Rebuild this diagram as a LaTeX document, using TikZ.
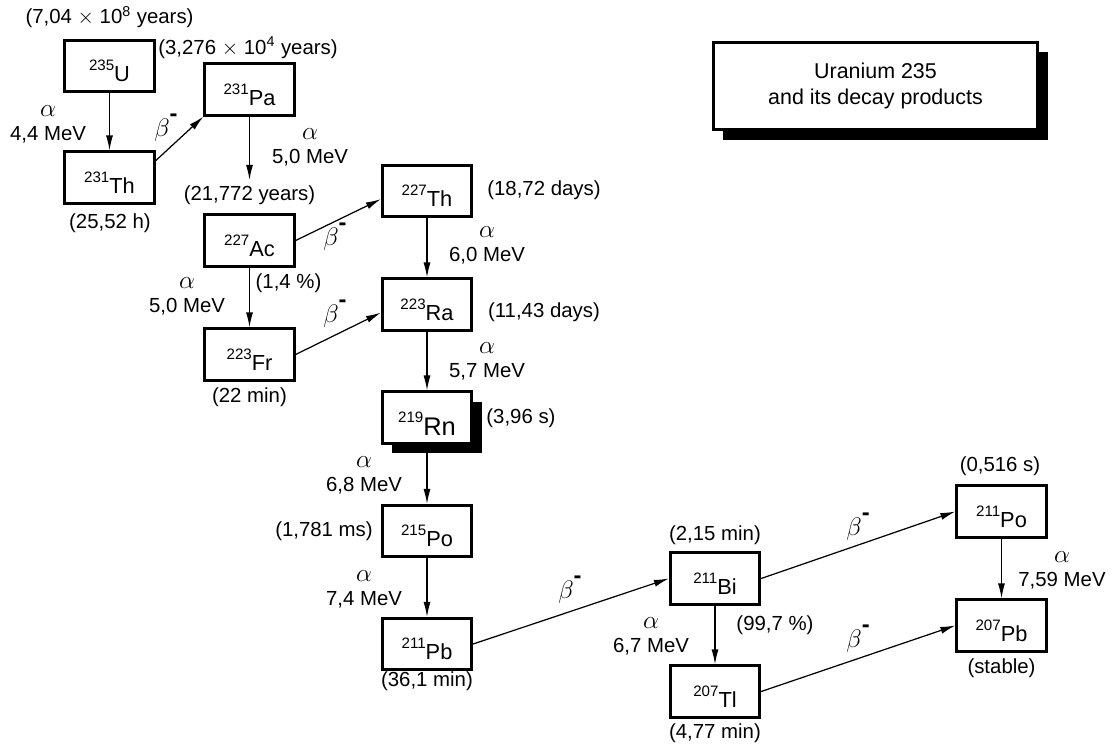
\documentclass[tikz,border=0pt]{standalone}
\usepackage{fontspec}
\setmainfont{Liberation Sans}
\usetikzlibrary{arrows.meta}
\usetikzlibrary{shadows}
\newcommand{\nucl}[2]{\raisebox{0.5em}{\fontsize{8.6}{8.6}\selectfont #1}#2}
\newcommand{\alp}{{\fontsize{13.5}{13.5}\selectfont$\alpha$}}
\newcommand{\bminus}{{\fontsize{13.5}{13.5}\selectfont$\beta$\raisebox{1.2ex}{\textbf{-}}}}

\begin{document}
\begin{tikzpicture}[
  font=\fontsize{11.6}{13.5}\selectfont,
  nuc/.style={draw, line width=1.6pt, fill=white, minimum width=1.79cm,
              minimum height=1.03cm, inner sep=0pt, text height=18pt, text depth=0pt,
              font=\fontsize{12.4}{14}\selectfont},
  lab/.style={inner sep=1pt},
  dec/.style={align=center, inner sep=1pt},
  ar/.style={-{Latex[length=8.5pt,width=4pt]}, line width=0.7pt},
  heavy/.style={drop shadow={shadow xshift=0.2cm, shadow yshift=-0.2cm,
                fill=black, opacity=1}}
]
\useasboundingbox (0,0) rectangle (22.24,-14.94);
\node[nuc, heavy, minimum width=6.49cm, minimum height=1.75cm, align=center,
  text height=, text depth=, font=\fontsize{12.2}{14.5}\selectfont]
  (title) at (17.51,-1.72) {Uranium 235\\and its decay products};
% nuclides
\node[nuc] (u235)  at (2.19,-1.32)  {\nucl{235}{U}};
\node[nuc] (pa231) at (4.99,-1.79)  {\nucl{231}{Pa}};
\node[nuc] (th231) at (2.19,-3.55)  {\nucl{231}{Th}};
\node[nuc] (ac227) at (4.99,-4.81)  {\nucl{227}{Ac}};
\node[nuc] (th227) at (8.54,-3.82)  {\nucl{227}{Th}};
\node[nuc] (ra223) at (8.54,-6.09)  {\nucl{223}{Ra}};
\node[nuc] (fr223) at (4.99,-7.09)  {\nucl{223}{Fr}};
\node[nuc, heavy, text height=20pt, font=\fontsize{14.5}{16}\selectfont] (rn219)
  at (8.54,-8.35) {\nucl{219}{Rn}};
\node[nuc] (po215) at (8.54,-10.62) {\nucl{215}{Po}};
\node[nuc] (pb211) at (8.54,-12.88) {\nucl{211}{Pb}};
\node[nuc] (bi211) at (14.3,-11.57) {\nucl{211}{Bi}};
\node[nuc] (tl207) at (14.3,-13.83) {\nucl{207}{Tl}};
\node[nuc] (po211) at (20.03,-10.23) {\nucl{211}{Po}};
\node[nuc] (pb207) at (20.03,-12.51) {\nucl{207}{Pb}};
% half-lives
\node[lab] (u235t)  at (2.19,-0.34)  {(7,04 $\times$ 10\textsuperscript{8} years)};
\node[lab] (pa231t) at (4.96,-0.96)  {(3,276 $\times$ 10\textsuperscript{4} years)};
\node[lab] (th231t) at (2.2,-4.46)   {(25,52 h)};
\node[lab, inner ysep=3pt] (ac227t) at (4.99,-3.9) {(21,772 years)};
\node[lab] (th227t) at (10.88,-3.8)  {(18,72 days)};
\node[lab] (ra223t) at (10.88,-6.24) {(11,43 days)};
\node[lab] (fr223t) at (4.99,-7.94)  {(22 min)};
\node[lab] (rn219t) at (10.42,-8.36) {(3,96 s)};
\node[lab] (po215t) at (6.48,-10.62) {(1,781 ms)};
\node[lab] (pb211t) at (8.54,-13.62) {(36,1 min)};
\node[lab] (bi211t) at (14.3,-10.7)  {(2,15 min)};
\node[lab] (tl207t) at (14.3,-14.66) {(4,77 min)};
\node[lab] (po211t) at (20.0,-9.32)  {(0,516 s)};
\node[lab] (pb207t) at (20.03,-13.36) {(stable)};
\node[lab] (ac227p) at (5.77,-5.66)  {(1,4 \%)};
\node[lab] (bi211p) at (15.5,-12.5)  {(99,7 \%)};
% alpha decays
\node[dec] (a1) at (0.96,-2.48)  {\alp\\4,4 MeV};
\node[dec] (a2) at (6.2,-2.94)   {\alp\\5,0 MeV};
\node[dec] (a3) at (3.74,-5.92)  {\alp\\5,0 MeV};
\node[dec] (a4) at (9.74,-4.9)   {\alp\\6,0 MeV};
\node[dec] (a5) at (9.74,-7.22)  {\alp\\5,7 MeV};
\node[dec] (a6) at (7.28,-9.5)   {\alp\\6,8 MeV};
\node[dec] (a7) at (7.28,-11.78) {\alp\\7,4 MeV};
\node[dec] (a8) at (13.02,-12.72) {\alp\\6,7 MeV};
\node[dec] (a9) at (21.24,-11.4) {\alp\\7,59 MeV};
% beta decays
\node[lab] (b1) at (3.32,-2.56)  {\bminus};
\node[lab] (b2) at (6.7,-4.74)   {\bminus};
\node[lab] (b3) at (6.7,-6.28)   {\bminus};
\node[lab] (b4) at (11.4,-11.8)  {\bminus};
\node[lab] (b5) at (17.16,-10.54) {\bminus};
\node[lab] (b6) at (17.16,-12.78) {\bminus};
% arrows
\draw[ar] (u235) -- (th231);
\draw[ar] (th231.20) -- (pa231.south west);
\draw[ar] (pa231) -- (ac227t);
\draw[ar] (ac227.east) -- (th227.190);
\draw[ar] (ac227) -- (fr223);
\draw[ar] (fr223.east) -- (ra223.190);
\draw[ar] (th227) -- (ra223);
\draw[ar] (ra223) -- (rn219);
\draw[ar] (rn219) -- (po215);
\draw[ar] (po215) -- (pb211);
\draw[ar] (pb211.east) -- (bi211.west);
\draw[ar] (bi211.east) -- (po211.west);
\draw[ar] (bi211) -- (tl207);
\draw[ar] (tl207.east) -- (pb207.west);
\draw[ar] (po211) -- (pb207);
\end{tikzpicture}
\end{document}
